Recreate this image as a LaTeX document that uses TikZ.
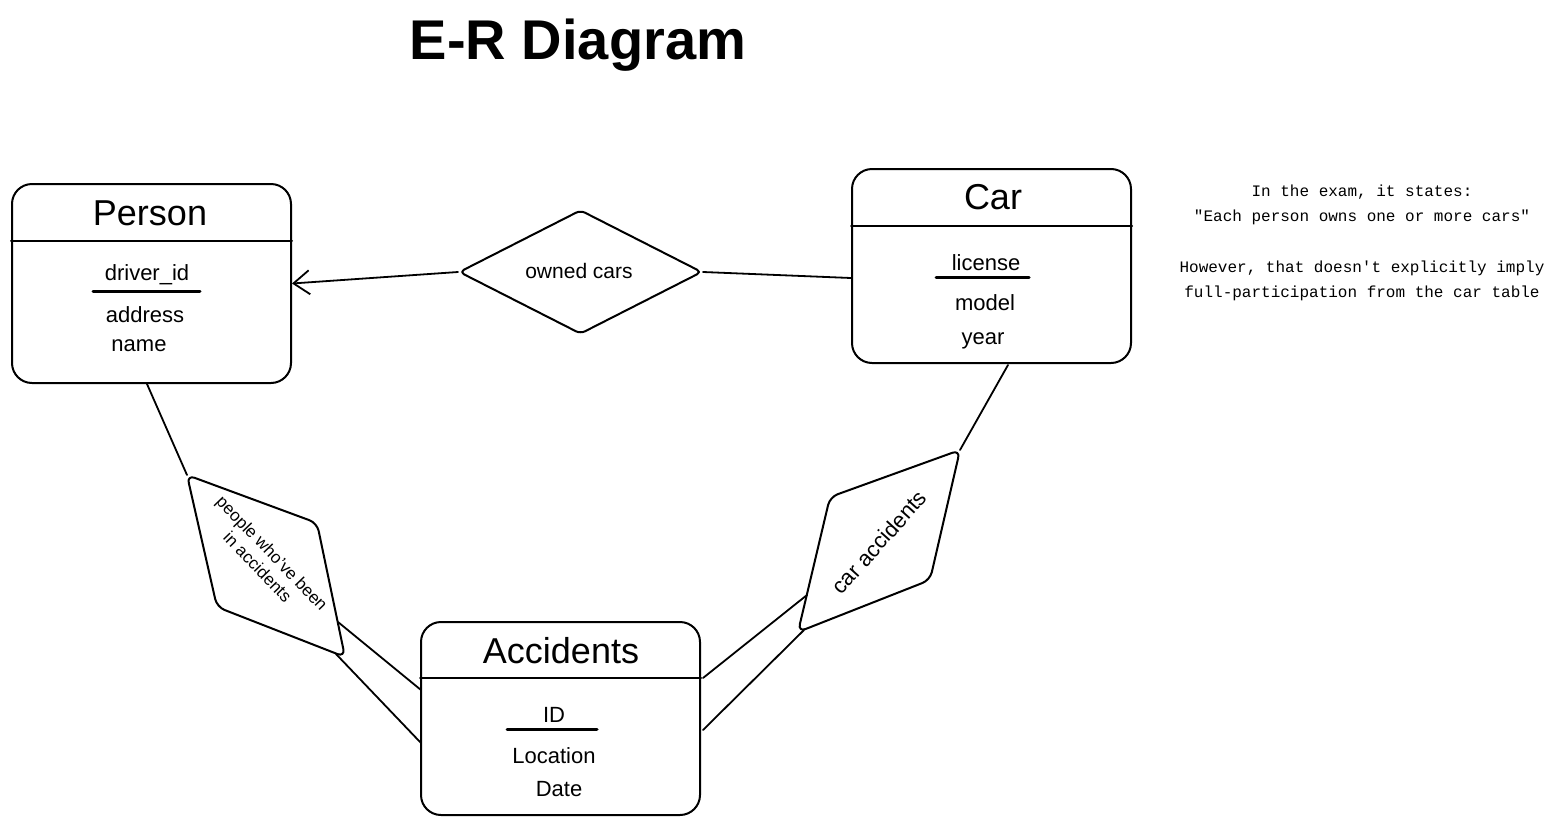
\documentclass[tikz,border=0pt]{standalone}
\usepackage{fontspec}
\setmainfont{Liberation Sans}
\newfontfamily\notefont{Liberation Mono}
\usetikzlibrary{shapes.geometric,arrows.meta,calc}
\begin{document}
\begin{tikzpicture}[x=0.5pt,y=-0.5pt,
  line width=1pt, line join=round, line cap=round,
  entity/.style={draw, rounded corners=10pt, minimum width=139.5pt, inner sep=0pt},
  etitle/.style={font=\fontsize{18}{20}\selectfont, inner sep=0pt},
  attr/.style={font=\fontsize{11}{13}\selectfont, inner sep=0pt},
  keyline/.style={line width=1.5pt},
  rel/.style={draw, rounded corners=4pt},
  reltext/.style={font=\fontsize{10.5}{12}\selectfont, inner sep=0pt, align=center},
  note/.style={font=\notefont\fontsize{8}{12.5}\selectfont, inner sep=0pt, align=center},
  link/.style={line width=0.9pt}
]
\useasboundingbox (0,0) rectangle (1553,825);

% title
\node[font=\bfseries\fontsize{28}{32}\selectfont, inner sep=0pt] (title) at (578,45) {E-R Diagram};

% Person
\node[entity, minimum height=99.5pt] (person) at (151.5,283.5) {};
\node[etitle] (persont) at (150,213) {Person};
\draw (person.west |- 0,241) -- (person.east |- 0,241);
\node[attr] (pid) at (147,275) {driver\_id};
\draw[keyline] (93,291) -- (200,291);
\node[attr] (paddr) at (145,315) {address};
\node[attr] (pname) at (139,346) {name};

% Car
\node[entity, minimum height=97pt] (car) at (991.5,266) {};
\node[etitle] (cart) at (993,197) {Car};
\draw (car.west |- 0,226) -- (car.east |- 0,226);
\node[attr] (clic) at (986,263) {license};
\draw[keyline] (936,277) -- (1029,277);
\node[attr] (cmodel) at (985,303) {model};
\node[attr] (cyear) at (983,341) {year};

% Accidents
\node[entity, minimum height=96.5pt] (acc) at (560.5,718.5) {};
\node[etitle] (acct) at (561,651) {Accidents};
\draw (acc.west |- 0,678) -- (acc.east |- 0,678);
\node[attr] (aid) at (554,715) {ID};
\draw[keyline] (507,729) -- (597,729);
\node[attr] (aloc) at (554,756) {Location};
\node[attr] (adate) at (559,789) {Date};

% owned cars relationship
\node[draw, diamond, rounded corners=2.5pt, minimum width=121.5pt, minimum height=62pt, inner sep=0pt] (owned) at (580.5,272) {};
\node[reltext] (ownedt) at (579,271) {owned cars};
\draw[link, -{Straight Barb[length=8pt,width=12pt]}] (owned.west) -- (person.east);
\draw[link] (owned.east) -- (car.west |- 0,278);

% people who've been in accidents relationship
\coordinate (pA) at (187,475);
\coordinate (pB) at (317,523);
\coordinate (pC) at (345,657);
\coordinate (pD) at (217,607);
\draw[rel] (pA) -- (pB) -- (pC) -- (pD) -- cycle;
\node[reltext, font=\fontsize{8.5}{10}\selectfont, rotate=-46] (peoplet) at (265,560) {people who've been\\in accidents};
\coordinate (pS) at (147,384);
\draw[link] (pS) -- (pA);
\coordinate (pE1) at (338,622);
\coordinate (pE2) at (336,654);
\coordinate (aL1) at (421,690);
\coordinate (aL2) at (421,743);
\draw[link] (pE1) -- (aL1);
\draw[link] (pE2) -- (aL2);

% car accidents relationship
\coordinate (cE) at (960,450);
\coordinate (cF) at (830,497);
\coordinate (cG) at (798,632);
\coordinate (cH) at (930,580);
\draw[rel] (cE) -- (cF) -- (cG) -- (cH) -- cycle;
\node[reltext, font=\fontsize{11}{13}\selectfont, rotate=48] (caract) at (879,542) {car accidents};
\coordinate (cS) at (1008,365);
\draw[link] (cS) -- (cE);
\coordinate (cE1) at (807,595);
\coordinate (cE2) at (804,630);
\coordinate (aR1) at (703,678);
\coordinate (aR2) at (703,730);
\draw[link] (cE1) -- (aR1);
\draw[link] (cE2) -- (aR2);

% note
\node[note] (note1) at (1362,204.5) {In the exam, it states:\\"Each person owns one or more cars"};
\node[note] (note2) at (1362,280.5) {However, that doesn't explicitly imply\\full-participation from the car table};
\end{tikzpicture}
\end{document}
